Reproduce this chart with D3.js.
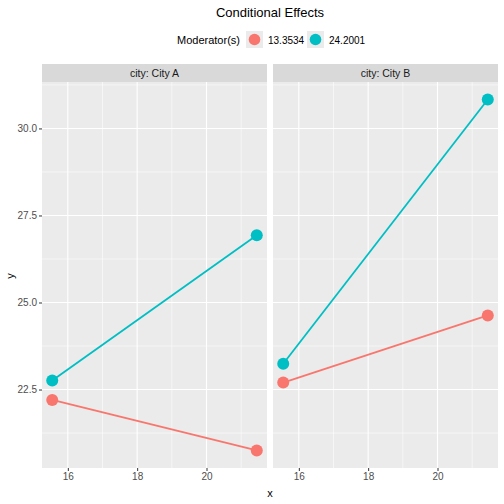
<!DOCTYPE html>
<html>
<head>
<meta charset="utf-8">
<script src="https://cdn.jsdelivr.net/npm/d3@7"></script>
<style>
  body { margin: 0; background: #fff; }
  text { font-family: "Liberation Sans", Arial, sans-serif; }
</style>
</head>
<body>
<svg id="chart" width="504" height="504"></svg>
<script>
// data
var cities = ['City A', 'City B'];
var moderators = ['13.3534', '24.2001'];
var xVals = [15.55, 21.45];
// y values per city and moderator, at the two x values
var cityA_low = [22.2, 20.75];
var cityA_high = [22.76, 26.93];
var cityB_low = [22.7, 24.63];
var cityB_high = [23.24, 30.83];
var xTicks = [16, 18, 20];
var yTicks = [22.5, 25.0, 27.5, 30.0];

var colors = ['#F8766D', '#00BFC4'];

var series = [
  { city: 'City A', mod: 0, y: cityA_low },
  { city: 'City A', mod: 1, y: cityA_high },
  { city: 'City B', mod: 0, y: cityB_low },
  { city: 'City B', mod: 1, y: cityB_high }
];

var svg = d3.select('#chart');

var panelTop = 82, panelBottom = 468;
var panelW = 225, gap = 6, left = 42;
var stripH = 18;

// ggplot style 5% expansion
var allY = [].concat(cityA_low, cityA_high, cityB_low, cityB_high);
var yMin = d3.min(allY), yMax = d3.max(allY);
var yPad = (yMax - yMin) * 0.05;
var xPad = (d3.max(xVals) - d3.min(xVals)) * 0.05;

var y = d3.scaleLinear()
  .domain([yMin - yPad, yMax + yPad])
  .range([panelBottom, panelTop]);

var yMinor = [21.25, 23.75, 26.25, 28.75, 31.25].filter(v => v > y.domain()[0] && v < y.domain()[1]);

// title
svg.append('text')
  .attr('x', 270).attr('y', 17)
  .attr('text-anchor', 'middle')
  .style('font-size', '13px')
  .text('Conditional Effects');

// legend
var leg = svg.append('g');
leg.append('text')
  .attr('x', 177).attr('y', 44)
  .style('font-size', '11px')
  .text('Moderator(s)');
var keyX = [246, 307];
moderators.forEach((m, i) => {
  leg.append('rect')
    .attr('x', keyX[i]).attr('y', 31)
    .attr('width', 17).attr('height', 17)
    .attr('fill', '#EBEBEB');
  leg.append('circle')
    .attr('cx', keyX[i] + 8.5).attr('cy', 39.5)
    .attr('r', 5.8)
    .attr('fill', colors[i]);
  leg.append('text')
    .attr('x', keyX[i] + 22).attr('y', 43.5)
    .style('font-size', '10px')
    .text(m);
});

cities.forEach((city, ci) => {
  var x0 = left + ci * (panelW + gap);
  var x = d3.scaleLinear()
    .domain([d3.min(xVals) - xPad, d3.max(xVals) + xPad])
    .range([x0, x0 + panelW]);
  var xMinor = [15, 17, 19, 21].filter(v => v > x.domain()[0] && v < x.domain()[1]);

  var g = svg.append('g');

  // strip
  g.append('rect')
    .attr('x', x0).attr('y', panelTop - stripH)
    .attr('width', panelW).attr('height', stripH)
    .attr('fill', '#D9D9D9');
  g.append('text')
    .attr('x', x0 + panelW / 2).attr('y', panelTop - stripH / 2 + 4)
    .attr('text-anchor', 'middle')
    .style('font-size', '10.5px')
    .attr('fill', '#1A1A1A')
    .text('city: ' + city);

  // panel
  g.append('rect')
    .attr('x', x0).attr('y', panelTop)
    .attr('width', panelW).attr('height', panelBottom - panelTop)
    .attr('fill', '#EBEBEB');

  // grid
  g.selectAll('.ymin').data(yMinor).enter().append('line')
    .attr('x1', x0).attr('x2', x0 + panelW)
    .attr('y1', d => y(d)).attr('y2', d => y(d))
    .attr('stroke', '#fff').attr('stroke-width', 0.55);
  g.selectAll('.xmin').data(xMinor).enter().append('line')
    .attr('y1', panelTop).attr('y2', panelBottom)
    .attr('x1', d => x(d)).attr('x2', d => x(d))
    .attr('stroke', '#fff').attr('stroke-width', 0.55);
  g.selectAll('.ymaj').data(yTicks).enter().append('line')
    .attr('x1', x0).attr('x2', x0 + panelW)
    .attr('y1', d => y(d)).attr('y2', d => y(d))
    .attr('stroke', '#fff').attr('stroke-width', 1.1);
  g.selectAll('.xmaj').data(xTicks).enter().append('line')
    .attr('y1', panelTop).attr('y2', panelBottom)
    .attr('x1', d => x(d)).attr('x2', d => x(d))
    .attr('stroke', '#fff').attr('stroke-width', 1.1);

  // x axis
  var xAxis = g.append('g')
    .attr('transform', 'translate(0,' + panelBottom + ')')
    .call(d3.axisBottom(x).tickValues(xTicks).tickSize(3).tickPadding(2).tickFormat(d3.format('d')));
  xAxis.select('.domain').remove();
  xAxis.selectAll('line').attr('stroke', '#333');
  xAxis.selectAll('text').attr('fill', '#4D4D4D').style('font-size', '10px')
    .style('font-family', '"Liberation Sans", Arial, sans-serif');

  // lines and points
  var line = d3.line().x((d, i) => x(xVals[i])).y(d => y(d));
  var ss = series.filter(s => s.city === city);
  ss.forEach(s => {
    g.append('path')
      .datum(s.y)
      .attr('d', line)
      .attr('fill', 'none')
      .attr('stroke', colors[s.mod])
      .attr('stroke-width', 1.8);
  });
  ss.forEach(s => {
    g.selectAll(null).data(s.y).enter().append('circle')
      .attr('cx', (d, i) => x(xVals[i]))
      .attr('cy', d => y(d))
      .attr('r', 6)
      .attr('fill', colors[s.mod]);
  });
});

// y axis on left panel
var yAxis = svg.append('g')
  .attr('transform', 'translate(' + left + ',0)')
  .call(d3.axisLeft(y).tickValues(yTicks).tickSize(3).tickPadding(2).tickFormat(d3.format('.1f')));
yAxis.select('.domain').remove();
yAxis.selectAll('line').attr('stroke', '#333');
yAxis.selectAll('text').attr('fill', '#4D4D4D').style('font-size', '10px')
  .style('font-family', '"Liberation Sans", Arial, sans-serif');

// axis titles
svg.append('text')
  .attr('x', 270).attr('y', 497)
  .attr('text-anchor', 'middle')
  .style('font-size', '11px')
  .text('x');
svg.append('text')
  .attr('transform', 'translate(14,276) rotate(-90)')
  .attr('text-anchor', 'middle')
  .style('font-size', '11px')
  .text('y');
</script>
</body>
</html>
